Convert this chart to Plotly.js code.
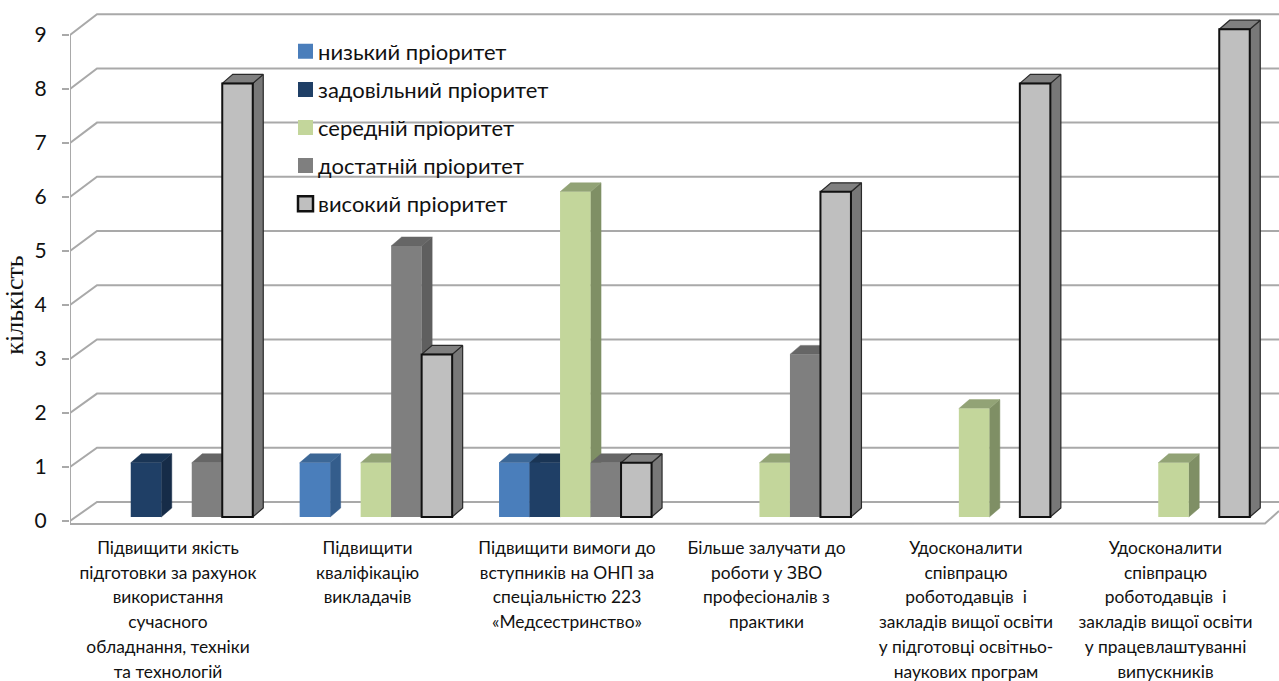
<!DOCTYPE html>
<html><head><meta charset="utf-8">
<script src="https://cdn.plot.ly/plotly-3.0.1.min.js"></script>
<style>html,body{margin:0;padding:0;background:#fff}#c{width:1279px;height:681px}</style>
</head><body><div id="c"></div>
<script>
// ---- data ----
const categories = [0,1,2,3,4,5];
const categoryLabels = [
 ["Підвищити якість","підготовки за рахунок","використання","сучасного","обладнання, техніки","та технологій"],
 ["Підвищити","кваліфікацію","викладачів"],
 ["Підвищити вимоги до","вступників на ОНП за","спеціальністю 223","«Медсестринство»"],
 ["Більше залучати до","роботи у ЗВО","професіоналів з","практики"],
 ["Удосконалити","співпрацю","роботодавців  і","закладів вищої освіти","у підготовці освітньо-","наукових програм"],
 ["Удосконалити","співпрацю","роботодавців  і","закладів вищої освіти","у працевлаштуванні","випускників"]
];
const low          = [null,1,1,null,null,null];
const satisfactory = [1,null,1,null,null,null];
const medium       = [null,1,6,1,2,1];
const sufficient   = [1,5,1,3,null,null];
const high         = [8,3,1,6,8,9];
const seriesNames = ["низький пріоритет","задовільний пріоритет","середній пріоритет","достатній пріоритет","високий пріоритет"];
const seriesValues = [low,satisfactory,medium,sufficient,high];
const yTicks = [0,1,2,3,4,5,6,7,8,9];
// ---- styles ----
const frontColors = ["#4a7ebb","#1f3f66","#c3d69b","#7f7f7f","#bfbfbf"];
const sideColors  = ["#345d8c","#162c48","#7f8f65","#5f5f5f","#787878"];
const topColors   = ["#3c6796","#1a3555","#92a376","#666666","#808080"];
const frontLine   = [null,null,null,null,{color:"#111",width:2}];
const faceLine    = [null,null,null,null,{color:"#2a2a2a",width:1.2}];
const FONT = "Lato, 'Noto Sans', sans-serif";
const GRID = "#a9a9a9";
// ---- geometry (pixels of the page) ----
const W=1279, LEFT=70, BOTTOM=610;
const GROUP_PX=199.4, SLOT_PX=30.5, DX=10.5, DY=9;
const tick0x=168, tickStep=199.5, bar0x=176.5;
const xr = [(LEFT-tick0x)/tickStep,(W-tick0x)/tickStep];
const xrBars = [(LEFT-bar0x)/GROUP_PX,(W-bar0x)/GROUP_PX];
const TICK_Y0=521, TICK_U=54, BAR_Y0=517, BAR_U=54.2, BACK_Y0=502;
const yr = [(TICK_Y0-BOTTOM)/TICK_U, TICK_Y0/TICK_U];
const yrBars = [(BAR_Y0-BOTTOM)/BAR_U, BAR_Y0/BAR_U];
const px = p => (p-tick0x)/tickStep, py = p => (TICK_Y0-p)/TICK_U;
const slotW = SLOT_PX/GROUP_PX, ddx = DX/GROUP_PX, ddy = DY/BAR_U;

const traces = [];
// walls
const wallX=[],wallY=[];
yTicks.forEach(k=>{
  const fy=TICK_Y0-TICK_U*k, by=BACK_Y0-BAR_U*k;
  wallX.push(px(LEFT),px(97),px(W),null); wallY.push(py(fy),py(by),py(by),null);
});
wallX.push(px(LEFT),px(LEFT),px(1265),px(W)); wallY.push(py(35),py(524),py(523.5),py(511));
traces.push({type:"scatter",mode:"lines",x:wallX,y:wallY,xaxis:"x",yaxis:"y",line:{color:GRID,width:2},showlegend:false,hoverinfo:"skip"});
// side and top faces, from the same values as the bars
seriesValues.forEach((vals,s)=>{
  const sx=[],sy=[],tx=[],ty=[];
  vals.forEach((v,i)=>{
    if(v===null) return;
    const l=categories[i]+(s-2.5)*slotW, r=l+slotW;
    sx.push(r,r+ddx,r+ddx,r,r,null); sy.push(0,ddy,v+ddy,v,0,null);
    tx.push(l,l+ddx,r+ddx,r,l,null); ty.push(v,v+ddy,v+ddy,v,v,null);
  });
  const ln=faceLine[s];
  [[sx,sy,sideColors[s]],[tx,ty,topColors[s]]].forEach(f=>{
    traces.push({type:"scatter",mode:"lines",x:f[0],y:f[1],xaxis:"x2",yaxis:"y2",fill:"toself",fillcolor:f[2],
      line:ln?{color:ln.color,width:ln.width}:{color:f[2],width:0.5},showlegend:false,hoverinfo:"skip"});
  });
});
// front faces
seriesValues.forEach((vals,s)=>{
  traces.push({type:"bar",name:seriesNames[s],x:categories,y:vals,xaxis:"x3",yaxis:"y3",legendgroup:"g"+s,
    marker:{color:frontColors[s],line:frontLine[s]||{width:0}},hoverinfo:"skip"});
});
const tickText = categoryLabels.map(lines=>lines.map(t=>'<span style="font-size:17.4px">'+t+'</span>').join("<br>"));
const layout = {
  width:W,height:681,paper_bgcolor:"#fff",plot_bgcolor:"rgba(0,0,0,0)",
  margin:{l:LEFT,r:0,t:0,b:681-BOTTOM},
  font:{family:FONT,color:"#111"},
  hovermode:false,
  barmode:"group",bargap:1-5*slotW,bargroupgap:0,
  xaxis:{range:xr,tickmode:"array",tickvals:categories,ticktext:tickText,tickangle:0,ticks:"",showgrid:false,zeroline:false,showline:false,
    anchor:"free",position:(BOTTOM-530)/BOTTOM,ticklabelstandoff:4,tickfont:{size:19,family:FONT,color:"#111"},fixedrange:true},
  yaxis:{range:yr,tickmode:"array",tickvals:yTicks,ticks:"outside",ticklen:7,tickwidth:2,tickcolor:GRID,showgrid:false,zeroline:false,showline:false,
    ticklabelstandoff:11,tickfont:{size:21,family:FONT,color:"#111"},
    title:{text:"кількість",font:{family:"'Liberation Serif',serif",size:26,color:"#111"},standoff:6},fixedrange:true},
  xaxis2:{overlaying:"x",anchor:"y2",range:xrBars,visible:false},
  yaxis2:{overlaying:"y",anchor:"x2",range:yrBars,visible:false},
  xaxis3:{overlaying:"x",anchor:"y3",range:xrBars,visible:false},
  yaxis3:{overlaying:"y",anchor:"x3",range:yrBars,visible:false},
  legend:{x:(278-LEFT)/(W-LEFT),y:(BOTTOM-30.5)/BOTTOM,xanchor:"left",yanchor:"top",bgcolor:"rgba(0,0,0,0)",borderwidth:0,
    font:{size:22,family:FONT,color:"#111"},tracegroupgap:6.5,itemwidth:30,itemclick:false,itemdoubleclick:false},
  showlegend:true
};
Plotly.newPlot("c",traces,layout,{displayModeBar:false,staticPlot:true}).then(()=>{
  // the reference's legend swatches sit closer to their labels and are slightly larger
  document.querySelectorAll(".legend .traces .legendpoints").forEach(g=>{
    g.setAttribute("transform",(g.getAttribute("transform")||"")+" translate(2.5,0) scale(1.25)");
  });
});
</script></body></html>
